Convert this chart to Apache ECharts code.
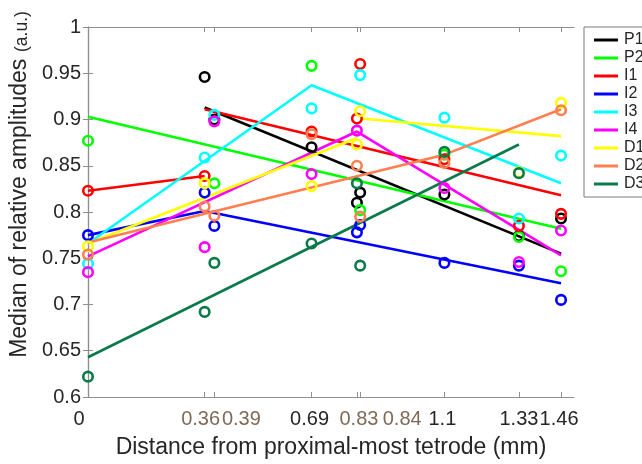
<!DOCTYPE html>
<html>
<head>
<meta charset="utf-8">
<script src="https://cdn.jsdelivr.net/npm/echarts@6/dist/echarts.min.js"></script>
<style>html,body{margin:0;padding:0;background:#fff;}#c{width:642px;height:464px;}</style>
</head>
<body>
<div id="c"></div>
<script>
// ---------- data ----------
const categories = ['P1','P2','I1','I2','I3','I4','D1','D2','D3'];
const xTickValues = [0, 0.36, 0.39, 0.69, 0.83, 0.84, 1.1, 1.33, 1.46];
const xTickLabels = ['0','0.36','0.39','0.69','0.83','0.84','1.1','1.33','1.46'];
const yTickLabels = ['0.6','0.65','0.7','0.75','0.8','0.85','0.9','0.95','1'];

// measured points [distance, median]
const ptsP1 = [[0.36,0.946],[0.39,0.900],[0.69,0.870],[0.83,0.810],[0.84,0.821],[1.1,0.819],[1.33,0.774],[1.46,0.793]];
const ptsP2 = [[0,0.877],[0.39,0.831],[0.69,0.958],[0.84,0.802],[1.1,0.862],[1.33,0.773],[1.46,0.736]];
const ptsI1 = [[0,0.823],[0.36,0.839],[0.69,0.887],[0.83,0.901],[0.84,0.960],[1.1,0.857],[1.33,0.785],[1.46,0.798]];
const ptsI2 = [[0,0.775],[0.36,0.821],[0.39,0.785],[0.83,0.778],[0.84,0.786],[1.1,0.745],[1.33,0.742],[1.46,0.705]];
const ptsI3 = [[0,0.744],[0.36,0.859],[0.39,0.905],[0.69,0.912],[0.84,0.948],[1.1,0.902],[1.33,0.793],[1.46,0.861]];
const ptsI4 = [[0,0.735],[0.36,0.762],[0.39,0.898],[0.69,0.841],[0.83,0.888],[1.1,0.826],[1.33,0.746],[1.46,0.780]];
const ptsD1 = [[0,0.763],[0.36,0.831],[0.69,0.828],[0.83,0.873],[0.84,0.909],[1.33,0.843],[1.46,0.918]];
const ptsD2 = [[0,0.754],[0.36,0.806],[0.39,0.796],[0.69,0.884],[0.83,0.850],[0.84,0.795],[1.1,0.853],[1.46,0.910]];
const ptsD3 = [[0,0.622],[0.36,0.692],[0.39,0.745],[0.69,0.766],[0.83,0.831],[0.84,0.742],[1.1,0.865],[1.33,0.842]];

// fitted line segments
const fitP1 = [[[0.36,0.913],[1.46,0.755]]];
const fitP2 = [[[0,0.903],[1.46,0.782]]];
const fitI1 = [[[0,0.823],[0.36,0.839]], [[0.36,0.911],[1.46,0.818]]];
const fitI2 = [[[0,0.775],[0.36,0.801],[1.46,0.723]]];
const fitI3 = [[[0,0.766],[0.69,0.937],[1.46,0.831]]];
const fitI4 = [[[0,0.752],[0.83,0.887],[1.46,0.753]]];
const fitD1 = [[[0,0.766],[0.83,0.880]], [[0.84,0.901],[1.46,0.882]]];
const fitD2 = [[[0,0.767],[1.1,0.862],[1.46,0.911]]];
const fitD3 = [[[0,0.643],[1.33,0.873]]];

// ---------- styles ----------
const colors = ['#000000','#00ff00','#ff0000','#0000ff','#00ffff','#ff00ff','#ffff00','#ff7f50','#0b7a4b'];
const allPts = [ptsP1,ptsP2,ptsI1,ptsI2,ptsI3,ptsI4,ptsD1,ptsD2,ptsD3];
const allFits = [fitP1,fitP2,fitI1,fitI2,fitI3,fitI4,fitD1,fitD2,fitD3];
const labelShift = {0:-9, 1:-4, 2:27, 3:-2, 4:2, 5:42, 6:-2, 7:0, 8:-2};
const oddLabels = {1:true, 2:true, 4:true, 5:true};
const axisGray = '#8f8f8f';
const textCol = '#262626';
const FONT = 'Liberation Sans, Arial, sans-serif';

const rich = {};
xTickLabels.forEach((t, i) => {
  const d = labelShift[i] || 0;
  rich['s' + i] = {
    fontSize: 20, fontFamily: FONT,
    color: oddLabels[i] ? '#7f6a58' : textCol,
    padding: d >= 0 ? [0, 0, 0, 2 * d] : [0, -2 * d, 0, 0]
  };
});

const series = [];
categories.forEach((name, k) => {
  allFits[k].forEach(seg => {
    series.push({
      name: name, type: 'line', data: seg, symbol: 'none',
      lineStyle: { color: colors[k], width: 2.6 },
      itemStyle: { color: colors[k] },
      z: 2, animation: false, silent: true
    });
  });
});
categories.forEach((name, k) => {
  series.push({
    name: name + '_pts', type: 'scatter', data: allPts[k],
    symbol: 'circle', symbolSize: 9.5,
    itemStyle: { color: 'rgba(0,0,0,0)', borderColor: colors[k], borderWidth: 2.6, opacity: 1 },
    z: 3, animation: false, silent: true
  });
});

const chart = echarts.init(document.getElementById('c'), null, { renderer: 'canvas' });
chart.setOption({
  backgroundColor: '#ffffff',
  animation: false,
  grid: { left: 88, right: 68, top: 27, bottom: 67, outerBoundsMode: 'none', containLabel: false },
  legend: {
    data: categories.map(n => ({ name: n, icon: 'rect' })),
    orient: 'vertical', left: 584, top: 27,
    itemWidth: 24, itemHeight: 3, itemGap: 0,
    padding: [4, 30, 4, 10],
    borderColor: '#7a7a7a', borderWidth: 1, backgroundColor: '#fff',
    textStyle: { fontSize: 16, fontFamily: FONT, color: textCol, lineHeight: 18, padding: [0,0,0,1] },
    selectedMode: false
  },
  xAxis: [{
    type: 'value', min: 0, max: 1.5, position: 'bottom',
    name: 'Distance from proximal-most tetrode (mm)', nameLocation: 'middle', nameGap: 39,
    nameTextStyle: { fontSize: 23, fontFamily: FONT, color: textCol },
    axisLine: { show: true, lineStyle: { color: axisGray, width: 1.2 } },
    axisTick: { show: true, inside: true, length: 5, customValues: xTickValues, lineStyle: { color: axisGray } },
    splitLine: { show: false },
    axisLabel: {
      show: true, margin: 12, customValues: xTickValues,
      formatter: function (v) {
        let idx = xTickValues.findIndex(t => Math.abs(t - v) < 1e-6);
        if (idx < 0) return '';
        return '{s' + idx + '|' + xTickLabels[idx] + '}';
      },
      rich: rich
    }
  }, {
    type: 'value', min: 0, max: 1.5, position: 'top',
    axisLine: { show: true, lineStyle: { color: axisGray, width: 1.2 } },
    axisTick: { show: true, inside: true, length: 5, customValues: xTickValues, lineStyle: { color: axisGray } },
    axisLabel: { show: false }, splitLine: { show: false }
  }],
  yAxis: [{
    type: 'value', min: 0.6, max: 1, interval: 0.05, position: 'left',
    name: '{a|Median of relative amplitudes}  {b|(a.u.)}', nameLocation: 'middle', nameGap: 51,
    nameRotate: 90,
    nameTextStyle: {
      padding: [0, 0, 0, 55],
      rich: {
        a: { fontSize: 23, fontFamily: FONT, color: textCol },
        b: { fontSize: 17.5, fontFamily: FONT, color: textCol, verticalAlign: 'bottom' }
      }
    },
    axisLine: { show: true, lineStyle: { color: axisGray, width: 1.2 } },
    axisTick: { show: true, inside: true, length: 5, lineStyle: { color: axisGray } },
    splitLine: { show: false },
    axisLabel: {
      margin: 7, fontSize: 20, fontFamily: FONT, color: textCol,
      formatter: function (v) {
        const i = Math.round((v - 0.6) / 0.05);
        return yTickLabels[i] !== undefined ? yTickLabels[i] : '';
      }
    }
  }, {
    type: 'value', min: 0.6, max: 1, interval: 0.05, position: 'right',
    axisLine: { show: true, lineStyle: { color: axisGray, width: 1.2 } },
    axisTick: { show: true, inside: true, length: 5, lineStyle: { color: axisGray } },
    axisLabel: { show: false }, splitLine: { show: false }
  }],
  series: series
});
</script>
</body>
</html>
